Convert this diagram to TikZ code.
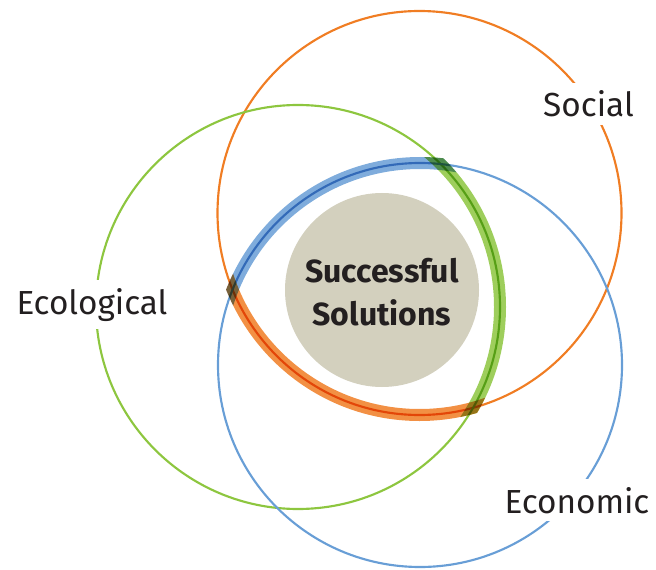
\documentclass[tikz,border=0pt]{standalone}
\usepackage{fontspec}
\setmainfont{Fira Sans}
\usetikzlibrary{calc}
\definecolor{socialorange}{RGB}{240,125,35}
\definecolor{ecogreen}{RGB}{141,198,63}
\definecolor{econblue}{RGB}{104,158,214}
\definecolor{solbeige}{RGB}{211,208,190}
\definecolor{textgray}{RGB}{35,31,32}
\tikzset{
    ring/.style={
        line width=1.6pt
    },
    % thick arc on the inner region
    band/.style={
        line width=9pt,
        blend mode=multiply,
        opacity=0.85
    },
    ringlabel/.style={
        fill=white,
        inner sep=6pt,
        text=textgray,
        font=\fontsize{25}{30}\selectfont,
        anchor=base
    }
}

\begin{document}
\begin{tikzpicture}[x=0.75pt,y=-0.75pt]
    \useasboundingbox (0,0) rectangle (656,570);

    \coordinate (soc) at (419.5,213);
    \coordinate (eco) at (298,307);
    \coordinate (econ) at (420,365);
    \coordinate (core) at (382,290);

    \draw[ring, socialorange] (soc) circle (202);
    \draw[ring, ecogreen] (eco) circle (202);
    \draw[ring, econblue] (econ) circle (202);

    \begin{scope}
        \clip (eco) circle (208);
        \clip (econ) circle (208);
        \draw[band, socialorange] (soc) circle (202);
    \end{scope}
    \begin{scope}
        \clip (soc) circle (208);
        \clip (econ) circle (208);
        \draw[band, ecogreen] (eco) circle (202);
    \end{scope}
    \begin{scope}
        \clip (soc) circle (208);
        \clip (eco) circle (208);
        \draw[band, econblue] (econ) circle (202);
    \end{scope}

    \fill[solbeige] (core) circle (97);
    \node[text=textgray, align=center, font=\bfseries\fontsize{24}{32}\selectfont] (sol) at ($(core)+(0,2)$) {Successful\\Solutions};

    \node[ringlabel] (social) at (588.5,117) {Social};
    \node[ringlabel] (ecological) at (92,314) {Ecological};
    \node[ringlabel] (economic) at (577,513) {Economic};
\end{tikzpicture}
\end{document}
